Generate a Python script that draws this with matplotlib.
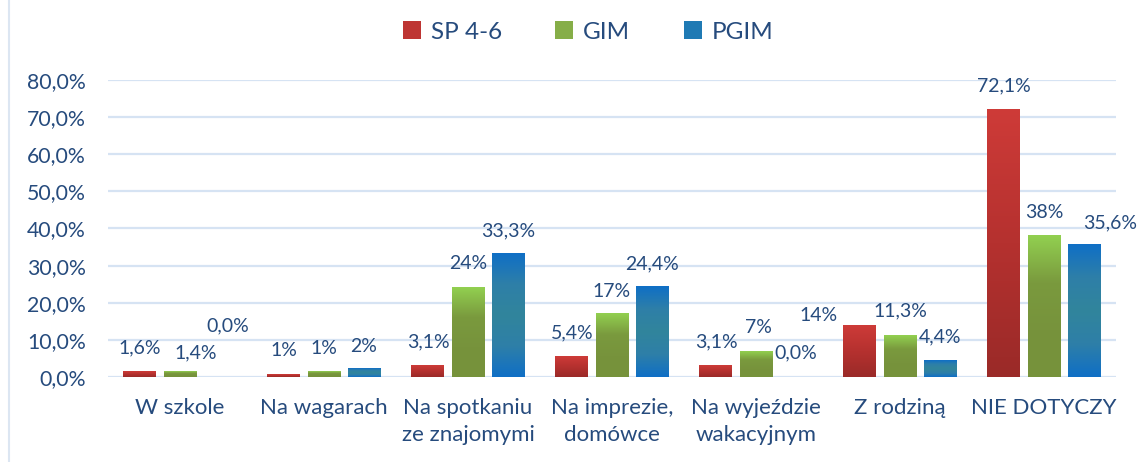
import numpy as np
import matplotlib
matplotlib.use("Agg")
import matplotlib.pyplot as plt
from matplotlib.colors import LinearSegmentedColormap
from matplotlib.patches import Patch
from matplotlib.lines import Line2D

plt.rcParams['font.family'] = ['Lato', 'DejaVu Sans']

categories = ["W szkole", "Na wagarach", "Na spotkaniu\nze znajomymi", "Na imprezie,\ndomówce",
              "Na wyjeździe\nwakacyjnym", "Z rodziną", "NIE DOTYCZY"]
series_names = ["SP 4-6", "GIM", "PGIM"]
sp_values = [1.6, 0.8, 3.1, 5.4, 3.1, 14.0, 72.1]
gim_values = [1.4, 1.4, 24.0, 17.0, 7.0, 11.3, 38.0]
pgim_values = [0.0, 2.2, 33.3, 24.4, 0.0, 4.4, 35.6]
sp_labels = ["1,6%", "1%", "3,1%", "5,4%", "3,1%", "14%", "72,1%"]
gim_labels = ["1,4%", "1%", "24%", "17%", "7%", "11,3%", "38%"]
pgim_labels = ["0,0%", "2%", "33,3%", "24,4%", "0,0%", "4,4%", "35,6%"]
yticks = [0, 10, 20, 30, 40, 50, 60, 70, 80]

# label offsets in pixels (dx, dy of label centre from bar top)
label_offsets = [
    [(0, 23), (0, 24), (0, 24), (0, 24), (0, 24), (-41, 10), (0, 23)],
    [(16, 19), (0, 23), (0, 24), (0, 22), (2, 24), (0, 24), (0, 23)],
    [(8, 51), (0, 22), (0, 22), (0, 23), (0, 24), (0, 24), (26, 22)],
]

text_color = "#264B7D"
grid_color = "#D6E3F3"
cmaps = [
    LinearSegmentedColormap.from_list("r", ["#9A2A28", "#B5312F", "#CE3B38"]),
    LinearSegmentedColormap.from_list("g", ["#76923B", "#77933C", "#7A9A3E", "#92D050"]),
    LinearSegmentedColormap.from_list("b", ["#0F6FC6", "#2E7FA8", "#31859C", "#2E7FA8", "#0F6FC6"]),
]
solid = ["#BE3533", "#86AE48", "#1F7AB4"]

fig = plt.figure(figsize=(11.38, 4.62), dpi=100)
ax = fig.add_axes([108 / 1138, 85 / 462, 1008 / 1138, 297 / 462])

x = np.arange(len(categories))
width = 0.229
step = 0.278
all_values = [sp_values, gim_values, pgim_values]
all_labels = [sp_labels, gim_labels, pgim_labels]

for i, (vals, labs) in enumerate(zip(all_values, all_labels)):
    bars = ax.bar(x + (i - 1) * step, vals, width, color="none", zorder=3)
    grad = np.linspace(0, 1, 256).reshape(-1, 1)
    for b, lab, off in zip(bars, labs, label_offsets[i]):
        x0, w, h = b.get_x(), b.get_width(), b.get_height()
        if h > 0:
            ax.imshow(grad, cmap=cmaps[i], extent=[x0, x0 + w, 0, h], origin="lower",
                      aspect="auto", zorder=3, interpolation="bilinear")
        ax.annotate(lab, (x0 + w / 2, h), xytext=off, textcoords="offset pixels",
                    ha="center", va="center", fontsize=14, color=text_color, zorder=4)

ax.set_xlim(-0.5, len(categories) - 0.5)
ax.set_ylim(0, 80)
ax.set_yticks(yticks)
ax.set_yticklabels([f"{t:.1f}%".replace(".", ",") for t in yticks], fontsize=15.3, color=text_color)
ax.set_xticks(x)
ax.set_xticklabels(categories, fontsize=16, color=text_color, linespacing=1.45)
ax.tick_params(length=0)
ax.tick_params(axis="y", pad=16)
ax.tick_params(axis="x", pad=15)
ax.grid(axis="y", color=grid_color, linewidth=1.6, zorder=0)
for s in ax.spines.values():
    s.set_visible(False)

handles = [Patch(facecolor=c, edgecolor="none") for c in solid]
fig.legend(handles, series_names, loc="center", bbox_to_anchor=(588 / 1138, 1 - 32 / 462),
           ncol=3, frameon=False, fontsize=17.5, labelcolor=text_color,
           handlelength=0.75, handleheight=0.75, handletextpad=0.4, columnspacing=2.2)

fig.add_artist(Line2D([8.5 / 1138, 8.5 / 1138], [0, 1], color="#DCE6F2", linewidth=1.5,
                      transform=fig.transFigure))

fig.savefig("out.png", dpi=100)
